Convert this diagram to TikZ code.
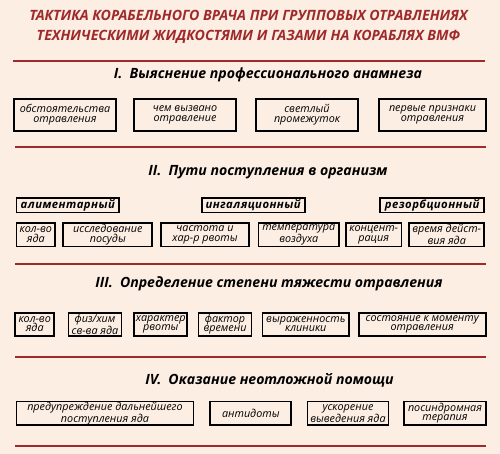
\documentclass[tikz,border=0pt]{standalone}
\usepackage{fontspec}
\setmainfont{Open Sans}
\definecolor{bgc}{HTML}{FDEEE4}
\definecolor{redc}{HTML}{9E2A2B}
\tikzset{
  x=1pt,y=-1pt,
  box/.style={draw=black, line width=1.8pt, inner sep=0pt, align=center,
    font=\fontsize{10.8}{9.6}\selectfont\itshape},
  catbox/.style={draw=black, line width=1.8pt, inner sep=0pt, align=center,
    font=\fontsize{11.3}{10}\selectfont\bfseries\itshape\addfontfeature{LetterSpace=4}},
  sep/.style={draw=redc, line width=2.4pt},
  head/.style={font=\fontsize{14.1}{15}\selectfont\bfseries\itshape, inner sep=0pt},
  title/.style={font=\fontsize{14.2}{19.4}\selectfont\bfseries\itshape, text=redc, align=center, inner sep=0pt},
}
\begin{document}
\begin{tikzpicture}
\fill[bgc] (0,0) rectangle (500,454);
\useasboundingbox (0,0) rectangle (500,454);

\node[title] (title) at (248.5,27) {ТАКТИКА КОРАБЕЛЬНОГО ВРАЧА ПРИ ГРУППОВЫХ ОТРАВЛЕНИЯХ\\ТЕХНИЧЕСКИМИ ЖИДКОСТЯМИ И ГАЗАМИ НА КОРАБЛЯХ ВМФ};

\coordinate (l1a) at (13,61); \coordinate (l1b) at (485,61);
\coordinate (l2a) at (15,147.3); \coordinate (l2b) at (486,147.3);
\coordinate (l3a) at (15,264); \coordinate (l3b) at (486,264);
\coordinate (l4a) at (15,356.7); \coordinate (l4b) at (486,356.7);
\coordinate (l5a) at (15,445.7); \coordinate (l5b) at (486,445.7);
\draw[sep] (l1a) -- (l1b);
\draw[sep] (l2a) -- (l2b);
\draw[sep] (l3a) -- (l3b);
\draw[sep] (l4a) -- (l4b);
\draw[sep] (l5a) -- (l5b);

% Section I
\node[head] (h1) at (268,75) {I.\hspace{0.5em}Выяснение профессионального анамнеза};
\node[box, minimum width=101.5, minimum height=32] (a1) at (65,114.9) {обстоятельства\\отравления};
\node[box, minimum width=101.5, minimum height=32] (a2) at (185,114.9) {чем вызвано\\отравление};
\node[box, minimum width=101.5, minimum height=32] (a3) at (307,114.9) {светлый\\промежуток};
\node[box, minimum width=106.5, minimum height=32] (a4) at (432.5,114.9) {первые признаки\\отравления};

% Section II
\node[head] (h2) at (268,171.7) {II.\hspace{0.5em}Пути поступления в организм};
\node[catbox, minimum width=102.5, minimum height=14.5] (c1) at (67.8,205.3) {алиментарный};
\node[catbox, minimum width=103, minimum height=14.5] (c2) at (253.2,205.3) {ингаляционный};
\node[catbox, minimum width=104, minimum height=14.5] (c3) at (432.2,205.3) {резорбционный};
\node[box, minimum width=38.5, minimum height=23.2] (b1) at (35.8,234.8) {кол-во\\яда};
\node[box, minimum width=89, minimum height=23.2] (b2) at (107.8,234.8) {исследование\\посуды};
\node[box, minimum width=88, minimum height=23.2] (b3) at (205,234.8) {частота и\\хар-р рвоты};
\node[box, minimum width=80.5, minimum height=23.2] (b4) at (298.8,234.8) {температура\\воздуха};
\node[box, minimum width=55.5, minimum height=23.2] (b5) at (373.7,234.8) {концент-\\рация};
\node[box, minimum width=75, minimum height=23.2] (b6) at (446.7,234.8) {время дейст-\\вия яда};

% Section III
\node[head] (h3) at (269,284) {III.\hspace{0.5em}Определение степени тяжести отравления};
\node[box, minimum width=39, minimum height=23.2] (d1) at (34.7,324.2) {кол-во\\яда};
\node[box, minimum width=53, minimum height=23.2] (d2) at (95,324.2) {физ/хим\\св-ва яда};
\node[box, minimum width=53, minimum height=23.2] (d3) at (160.8,324.2) {характер\\рвоты};
\node[box, minimum width=53, minimum height=23.2] (d4) at (225,324.2) {фактор\\времени};
\node[box, minimum width=86.5, minimum height=23.2] (d5) at (305.8,324.2) {выраженность\\клиники};
\node[box, minimum width=127, minimum height=23.2] (d6) at (422.2,324.2) {состояние к моменту\\отравления};

% Section IV
\node[head] (h4) at (269.5,380) {IV.\hspace{0.5em}Оказание неотложной помощи};
\node[box, minimum width=177, minimum height=23.5] (e1) at (105,413.3) {предупреждение дальнейшего\\поступления яда};
\node[box, minimum width=81, minimum height=23.5] (e2) at (250.8,413.3) {антидоты};
\node[box, minimum width=81, minimum height=23.5] (e3) at (348,413.3) {ускорение\\выведения яда};
\node[box, minimum width=81.5, minimum height=23.5] (e4) at (445,413.3) {посиндромная\\терапия};
\end{tikzpicture}
\end{document}
